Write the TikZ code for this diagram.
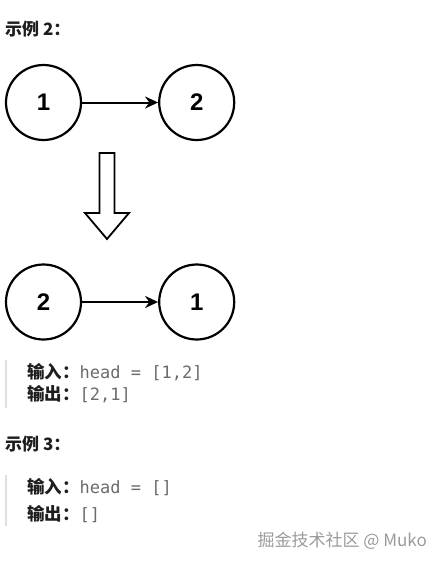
\documentclass[tikz,border=0pt]{standalone}
\usepackage{fontspec}
\setmainfont{Liberation Sans}
\newfontfamily\cjk{Noto Sans CJK SC}
\newfontfamily\codefont{DejaVu Sans Mono}
\usetikzlibrary{positioning, arrows.meta, calc}
\definecolor{lcText}{HTML}{1E1E1E}
\definecolor{lcCode}{HTML}{6B6B6B}
\definecolor{lcQuote}{HTML}{DEDEDE}
\definecolor{lcMark}{HTML}{9A9A9A}

\begin{document}
\begin{tikzpicture}[
    x=1pt, y=-1pt,
    listnode/.style={
        circle, draw=black, line width=2.2pt, minimum size=75pt,
        inner sep=0pt, font=\bfseries\fontsize{24}{24}\selectfont
    },
    link/.style={-{Stealth[length=13pt, width=12pt]}, line width=2pt},
    bigarrow/.style={draw=black, line width=1.8pt, line join=miter},
    title/.style={anchor=west, inner sep=0pt, text=lcText, font=\cjk\bfseries\fontsize{17}{17}\selectfont},
    ioline/.style={anchor=west, inner sep=0pt, text=lcText, font=\fontsize{17.5}{17.5}\selectfont},
    quotebar/.style={draw=lcQuote, line width=2.5pt}
]
\useasboundingbox (0,0) rectangle (443,566);

% Example 2: heading
\node[title] (ex2) at (5,29.5) {示例 2：};

% Row 1: 1 -> 2
\node[listnode] (a1) at (43.5,102.5) {1};
\node[listnode, right=76pt of a1] (a2) {2};
\draw[link] (a1) -- (a2);

% Hollow arrow down
\draw[bigarrow] (99.5,153) -- (114.5,153) -- (114.5,213) -- (129,213)
    -- (107,239) -- (85,213) -- (99.5,213) -- cycle;

% Row 2: 2 -> 1
\node[listnode] (b2) at (43.5,302) {2};
\node[listnode, right=76pt of b2] (b1) {1};
\draw[link] (b2) -- (b1);

% Input / output of example 2
\draw[quotebar] (6,360) -- (6,408);
\node[ioline] (in2) at (27,372.5) {{\cjk\bfseries 输入：}{\codefont\fontsize{17}{17}\selectfont\color{lcCode}head = [1,2]}};
\node[ioline] (out2) at (27,394) {{\cjk\bfseries 输出：}{\codefont\fontsize{17}{17}\selectfont\color{lcCode}[2,1]}};

% Example 3
\node[title] (ex3) at (5,444.5) {示例 3：};
\draw[quotebar] (6,475) -- (6,526);
\node[ioline] (in3) at (27,487.5) {{\cjk\bfseries 输入：}{\codefont\fontsize{17}{17}\selectfont\color{lcCode}head = []}};
\node[ioline] (out3) at (27,514.5) {{\cjk\bfseries 输出：}{\codefont\fontsize{17}{17}\selectfont\color{lcCode}[]}};

% Watermark
\node[anchor=east, inner sep=0pt, text=lcMark, font=\cjk\fontsize{17}{17}\selectfont] (mark) at (427,541) {掘金技术社区 @ Muko};

\end{tikzpicture}
\end{document}
